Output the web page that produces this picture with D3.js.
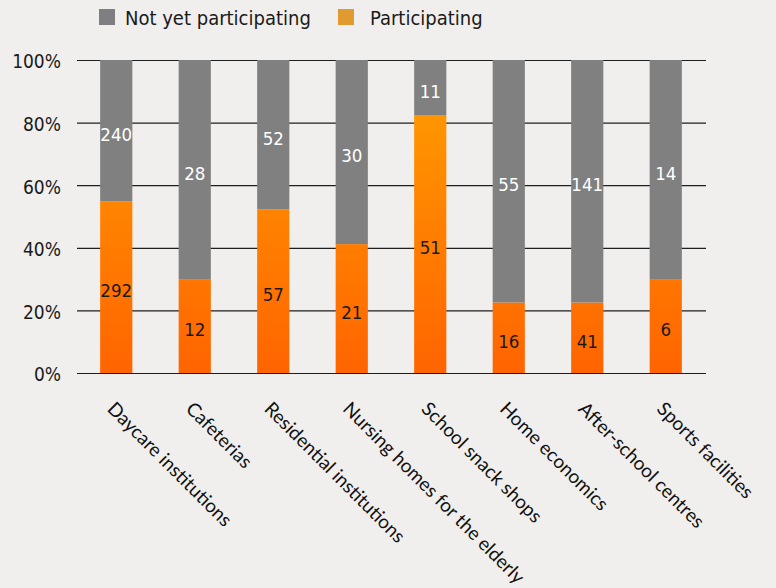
<!DOCTYPE html>
<html>
<head>
<meta charset="utf-8">
<script src="https://cdn.jsdelivr.net/npm/d3@7"></script>
<style>
  html, body { margin: 0; padding: 0; background: #f0efed; }
  svg { display: block; }
  .cond { font-family: "Liberation Sans Narrow", "DejaVu Sans Condensed", Roboto, sans-serif; }
  .cat { font-family: Lato, "Open Sans", sans-serif; }
</style>
</head>
<body>
<svg id="chart" width="776" height="588"></svg>
<script>
// Categories and counts per category
const categories = [
  "Daycare institutions", "Cafeterias", "Residential institutions",
  "Nursing homes for the elderly", "School snack shops", "Home economics",
  "After-school centres", "Sports facilities"
];
const participating = [292, 12, 57, 21, 51, 16, 41, 6];
const notYet = [240, 28, 52, 30, 11, 55, 141, 14];
const seriesNames = ["Participating", "Not yet participating"];
const tickValues = [0, 0.2, 0.4, 0.6, 0.8, 1];

const svg = d3.select("#chart");
const margin = { left: 77, top: 60 };

const x = d3.scaleBand()
  .domain(categories)
  .range([margin.left, 705])
  .paddingInner(0.59)
  .paddingOuter(0.295);

const y = d3.scaleLinear().domain([0, 1]).range([373, 60]);

// Build the share table for stacking
const rows = categories.map((c, i) => {
  const tot = participating[i] + notYet[i];
  return {
    cat: c,
    "Participating": participating[i] / tot,
    "Not yet participating": notYet[i] / tot,
    counts: { "Participating": participating[i], "Not yet participating": notYet[i] }
  };
});
const stacked = d3.stack().keys(seriesNames)(rows);

// Orange gradient for participating bars
const defs = svg.append("defs");
const grad = defs.append("linearGradient")
  .attr("id", "orangeGrad")
  .attr("gradientUnits", "userSpaceOnUse")
  .attr("x1", 0).attr("x2", 0)
  .attr("y1", y(1)).attr("y2", y(0));
grad.append("stop").attr("offset", "0%").attr("stop-color", "#ffa000");
grad.append("stop").attr("offset", "100%").attr("stop-color", "#ff6400");

// Gridlines (behind bars)
const grid = d3.axisLeft(y)
  .tickValues(tickValues)
  .tickSize(-(706 - margin.left))
  .tickFormat(d3.format(".0%"));
const gAxis = svg.append("g")
  .attr("transform", `translate(${margin.left},0)`)
  .call(grid);
gAxis.select(".domain").remove();
gAxis.selectAll(".tick line").attr("stroke", "#1e1e1e").attr("stroke-width", 1.2);
gAxis.selectAll(".tick text")
  .attr("class", "cond")
  .attr("x", -16)
  .attr("dy", "0.42em")
  .attr("fill", "#1a1a1a")
  .style("font-size", "19px");

const colors = { "Participating": "url(#orangeGrad)", "Not yet participating": "#808080" };
const labelColors = { "Participating": "#1a1a1a", "Not yet participating": "#ffffff" };

const layers = svg.append("g").selectAll("g")
  .data(stacked).join("g")
  .attr("fill", d => colors[d.key]);

layers.selectAll("rect")
  .data(d => d.map(p => ({ p, key: d.key })))
  .join("rect")
  .attr("x", d => x(d.p.data.cat))
  .attr("width", x.bandwidth())
  .attr("y", d => y(d.p[1]))
  .attr("height", d => y(d.p[0]) - y(d.p[1]));

// Count labels centred in each segment
svg.append("g").selectAll("g")
  .data(stacked).join("g")
  .selectAll("text")
  .data(d => d.map(p => ({ p, key: d.key })))
  .join("text")
  .attr("class", "cond")
  .attr("x", d => x(d.p.data.cat) + x.bandwidth() / 2)
  .attr("y", d => (y(d.p[0]) + y(d.p[1])) / 2 + 3)
  .attr("dy", "0.38em")
  .attr("text-anchor", "middle")
  .attr("fill", d => labelColors[d.key])
  .style("font-size", "18.5px")
  .text(d => d.p.data.counts[d.key]);

// Rotated category labels
svg.append("g").selectAll("text")
  .data(categories).join("text")
  .attr("class", "cat")
  .attr("transform", d => `translate(${x(d) + x.bandwidth() / 2 - 10},410) rotate(45)`)
  .attr("text-anchor", "start")
  .attr("fill", "#111")
  .style("font-size", "19px")
  .text(d => d);

// Legend
const legendItems = [
  { name: "Not yet participating", color: "#7f7e80", sx: 99, tx: 125 },
  { name: "Participating", color: "#e09a30", sx: 338, tx: 370 }
];
const lg = svg.append("g");
lg.selectAll("rect").data(legendItems).join("rect")
  .attr("x", d => d.sx).attr("y", 9)
  .attr("width", 16).attr("height", 16)
  .attr("fill", d => d.color);
lg.selectAll("text").data(legendItems).join("text")
  .attr("class", "cond")
  .attr("x", d => d.tx).attr("y", 25)
  .attr("fill", "#1a1a1a")
  .style("font-size", "20px")
  .text(d => d.name);
</script>
</body>
</html>
